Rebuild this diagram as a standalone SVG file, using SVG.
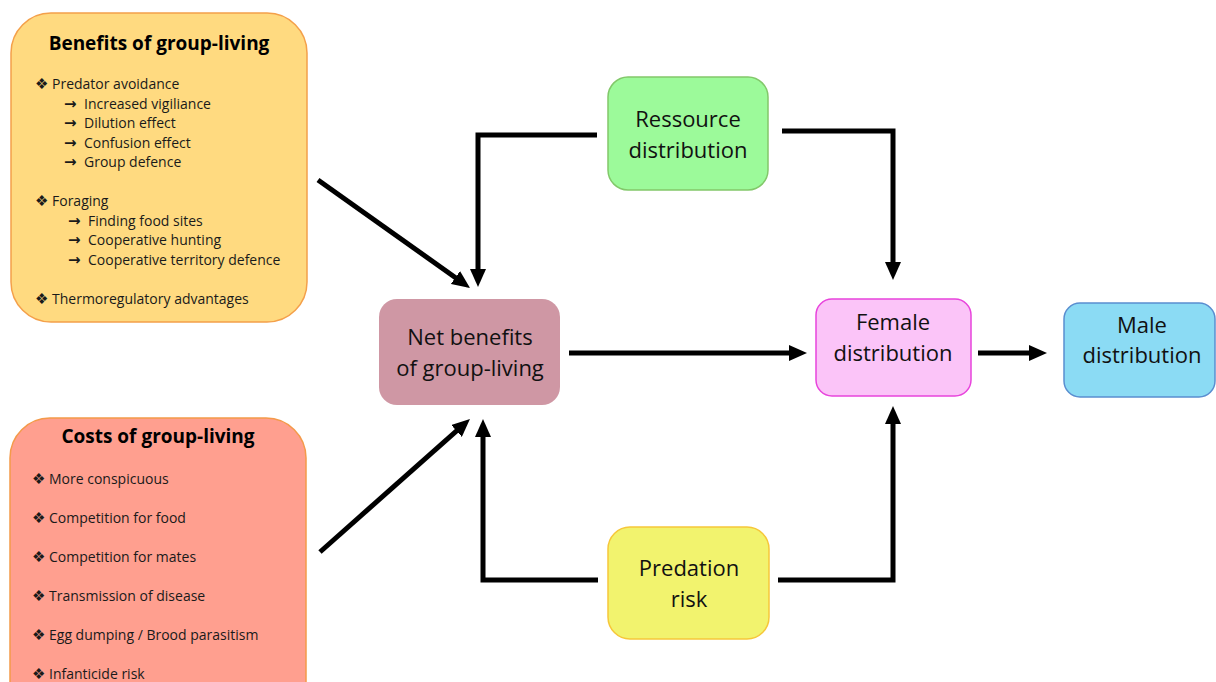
<svg xmlns="http://www.w3.org/2000/svg" width="1216" height="682" viewBox="0 0 1216 682">
<style>
  .lbl{font-family:"Open Sans","Liberation Sans",sans-serif;font-size:22px;fill:#111;text-anchor:middle}
  .ttl{font-family:"Open Sans","Liberation Sans",sans-serif;font-size:19px;font-weight:bold;fill:#000;text-anchor:middle}
  .it{font-family:"Open Sans","Liberation Sans",sans-serif;font-size:14px;fill:#1a1a1a}
  .sym{font-family:"DejaVu Sans",sans-serif;font-size:15px;fill:#1a1a1a}
  .arr{font-family:"DejaVu Sans",sans-serif;font-size:15px;font-weight:bold;fill:#1a1a1a}
  .conn{fill:none;stroke:#000;stroke-width:5;stroke-linejoin:miter;marker-end:url(#ah)}
</style>
<defs>
  <marker id="ah" viewBox="0 0 18 16" refX="2" refY="8" markerWidth="18" markerHeight="16" markerUnits="userSpaceOnUse" orient="auto">
    <path d="M0,0 L18,8 L0,16 z" fill="#000"/>
  </marker>
</defs>
<rect width="1216" height="682" fill="#fff"/>

<g id="benefits">
  <rect x="11" y="13" width="296" height="309" rx="40" fill="#FFDA80" stroke="#F4A04A" stroke-width="1.5"/>
  <text class="ttl" x="159" y="50">Benefits of group-living</text>
  <text class="sym" x="35" y="89">❖</text><text class="it" x="52" y="89">Predator avoidance</text>
  <text class="arr" x="64" y="109">→</text><text class="it" x="84" y="109">Increased vigiliance</text>
  <text class="arr" x="64" y="128">→</text><text class="it" x="84" y="128">Dilution effect</text>
  <text class="arr" x="64" y="148">→</text><text class="it" x="84" y="148">Confusion effect</text>
  <text class="arr" x="64" y="167">→</text><text class="it" x="84" y="167">Group defence</text>
  <text class="sym" x="35" y="206">❖</text><text class="it" x="52" y="206">Foraging</text>
  <text class="arr" x="68" y="226">→</text><text class="it" x="88" y="226">Finding food sites</text>
  <text class="arr" x="68" y="245">→</text><text class="it" x="88" y="245">Cooperative hunting</text>
  <text class="arr" x="68" y="265">→</text><text class="it" x="88" y="265">Cooperative territory defence</text>
  <text class="sym" x="35" y="304">❖</text><text class="it" x="52" y="304">Thermoregulatory advantages</text>
</g>

<g id="costs">
  <rect x="10" y="418" width="296" height="320" rx="40" fill="#FF9F8F" stroke="#F49A4A" stroke-width="1.5"/>
  <text class="ttl" x="158" y="443">Costs of group-living</text>
  <text class="sym" x="32" y="484">❖</text><text class="it" x="49" y="484">More conspicuous</text>
  <text class="sym" x="32" y="523">❖</text><text class="it" x="49" y="523">Competition for food</text>
  <text class="sym" x="32" y="562">❖</text><text class="it" x="49" y="562">Competition for mates</text>
  <text class="sym" x="32" y="601">❖</text><text class="it" x="49" y="601">Transmission of disease</text>
  <text class="sym" x="32" y="640">❖</text><text class="it" x="49" y="640">Egg dumping / Brood parasitism</text>
  <text class="sym" x="32" y="679">❖</text><text class="it" x="49" y="679">Infanticide risk</text>
</g>

<g id="ressource">
  <rect x="608" y="77" width="160" height="113" rx="20" fill="#9CFA9A" stroke="#82C86A" stroke-width="1.5"/>
  <text class="lbl" x="688" y="127">Ressource</text>
  <text class="lbl" x="688" y="158">distribution</text>
</g>

<g id="net">
  <rect x="379" y="299" width="181" height="106" rx="18" fill="#CF97A4"/>
  <text class="lbl" x="470" y="345">Net benefits</text>
  <text class="lbl" x="470" y="376">of group-living</text>
</g>

<g id="female">
  <rect x="816" y="299" width="155" height="97" rx="16" fill="#FBC4F8" stroke="#E844DC" stroke-width="1.5"/>
  <text class="lbl" x="893" y="330">Female</text>
  <text class="lbl" x="893" y="361">distribution</text>
</g>

<g id="male">
  <rect x="1064" y="303" width="151" height="94" rx="16" fill="#8BDBF4" stroke="#5A8ED0" stroke-width="1.5"/>
  <text class="lbl" x="1142" y="333">Male</text>
  <text class="lbl" x="1142" y="363">distribution</text>
</g>

<g id="predation">
  <rect x="608" y="527" width="161" height="112" rx="22" fill="#F2F36E" stroke="#F6C73A" stroke-width="1.5"/>
  <text class="lbl" x="689" y="576">Predation</text>
  <text class="lbl" x="689" y="607">risk</text>
</g>

<g id="connectors">
  <path class="conn" d="M318,180 L457,278.7"/>
  <path class="conn" d="M320,552 L458,429.6"/>
  <path class="conn" d="M597,135 H478 V271"/>
  <path class="conn" d="M782,131 H893 V264"/>
  <path class="conn" d="M569,353 H791"/>
  <path class="conn" d="M978,353 H1031"/>
  <path class="conn" d="M598,580 H483 V435"/>
  <path class="conn" d="M778,580 H893 V422"/>
</g>
</svg>
